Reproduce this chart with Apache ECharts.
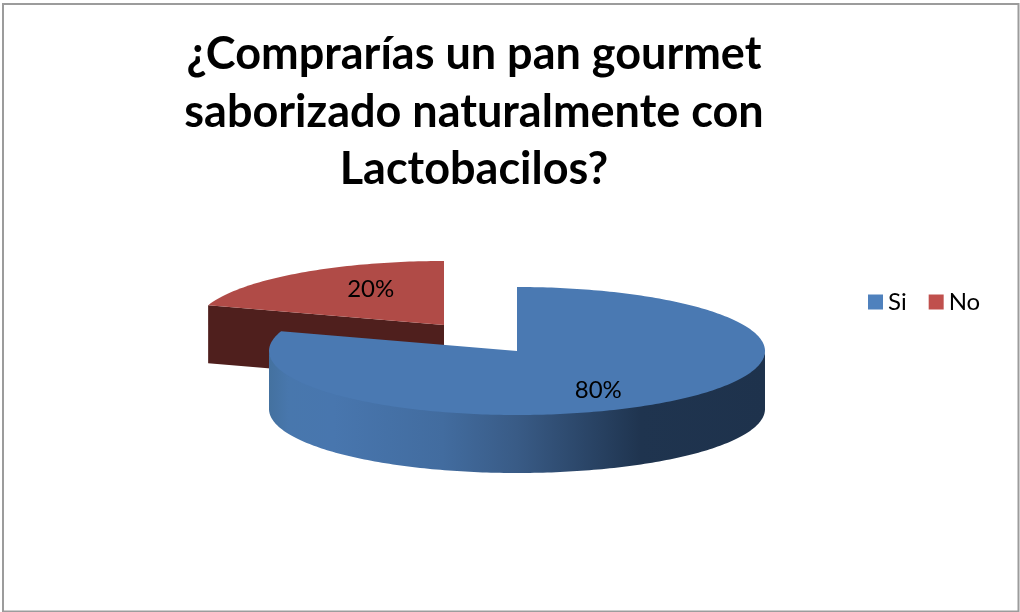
<!DOCTYPE html>
<html>
<head>
<meta charset="utf-8">
<style>html,body{margin:0;padding:0;background:#fff}#c{width:1020px;height:612px}</style>
<script src="https://cdn.jsdelivr.net/npm/echarts@6/dist/echarts.min.js"></script>
</head>
<body>
<div id="c"></div>
<script>
const titleText = '¿Comprarías un pan gourmet\nsaborizado naturalmente con\nLactobacilos?';
const categories = ['Si', 'No'];
const values = [80, 20];
const total = values.reduce((a, b) => a + b, 0);

const RX = 248, RY = 64, DEPTH = 58;
const centers = { Si: [517, 351], No: [444, 325] };
const topColors = { Si: '#4a79b2', No: '#b04b47' };
const legendColors = { Si: '#4f81bd', No: '#c0504d' };

function pt(c, deg, dy) {
  const a = deg * Math.PI / 180;
  return [c[0] + RX * Math.sin(a), c[1] - RY * Math.cos(a) + (dy || 0)];
}
function arc(c, from, to, dy) {
  const out = [];
  const n = Math.max(2, Math.ceil(Math.abs(to - from)));
  for (let i = 0; i <= n; i++) out.push(pt(c, from + (to - from) * i / n, dy));
  return out;
}
function makeRender(index) {
  return function (params, api) {
    const name = categories[index];
    const before = values.slice(0, index).reduce((a, b) => a + b, 0);
    const start = before / total * 360;
    const end = (before + api.value(0)) / total * 360;
    const mid = (start + end) / 2;
    const c = centers[name];
    const children = [];
    // visible outer wall: the front half of the rim
    const wFrom = Math.max(start, 90), wTo = Math.min(end, 270);
    if (wTo > wFrom) {
      const wall = arc(c, wFrom, wTo, -1.5).concat(arc(c, wTo, wFrom, DEPTH));
      children.push({
        type: 'polygon', shape: { points: wall },
        style: {
          fill: new echarts.graphic.LinearGradient(0, 0, 1, 0, [
            { offset: 0, color: '#44719f' },
            { offset: 0.04, color: '#4877ad' },
            { offset: 0.13, color: '#4876ae' },
            { offset: 0.35, color: '#426c9f' },
            { offset: 0.5, color: '#395b86' },
            { offset: 0.75, color: '#1f344f' },
            { offset: 1, color: '#1e324c' }
          ])
        }
      });
    }
    // visible cut face of a slice lying at the back-left
    if (start > 270) {
      const p = pt(c, start);
      children.push({
        type: 'polygon',
        shape: { points: [p, c, [c[0], c[1] + DEPTH], [p[0], p[1] + DEPTH]] },
        style: { fill: '#4f1f1d' }
      });
    }
    // top face
    children.push({
      type: 'polygon',
      shape: { points: [c].concat(arc(c, start, end, 0)) },
      style: { fill: topColors[name] }
    });
    // percentage label
    const a = mid * Math.PI / 180;
    children.push({
      type: 'text',
      style: {
        x: c[0] + RX * Math.sin(a) * 0.53 + 4,
        y: c[1] - RY * Math.cos(a) * 0.72 + 1.5,
        text: Math.round(api.value(0) / total * 100) + '%',
        fill: '#000', font: '24px Lato',
        align: 'center', verticalAlign: 'middle'
      }
    });
    return { type: 'group', children };
  };
}

const chart = echarts.init(document.getElementById('c'), null, { renderer: 'canvas' });
chart.setOption({
  animation: false,
  backgroundColor: '#fff',
  title: {
    text: titleText, left: 469, top: 21, textAlign: 'center',
    textStyle: { fontFamily: 'Lato', fontWeight: 'bold', fontSize: 45, lineHeight: 57.5, color: '#000' }
  },
  legend: {
    data: categories, orient: 'horizontal', left: 868, top: 290, padding: 0, icon: 'rect',
    itemWidth: 15, itemHeight: 15, itemGap: 22,
    textStyle: { fontFamily: 'Lato', fontSize: 24, color: '#000' },
    selectedMode: false
  },
  graphic: [{
    type: 'rect', z: -1, silent: true,
    shape: { x: 3, y: 4, width: 1015.5, height: 607.5 },
    style: { fill: 'none', stroke: '#9c9c9c', lineWidth: 2 }
  }],
  series: categories.map((name, i) => ({
    type: 'custom', name, coordinateSystem: 'none',
    z: name === 'Si' ? 3 : 2,
    silent: true,
    itemStyle: { color: legendColors[name] },
    data: [[values[i]]],
    renderItem: makeRender(i)
  }))
});
</script>
</body>
</html>
